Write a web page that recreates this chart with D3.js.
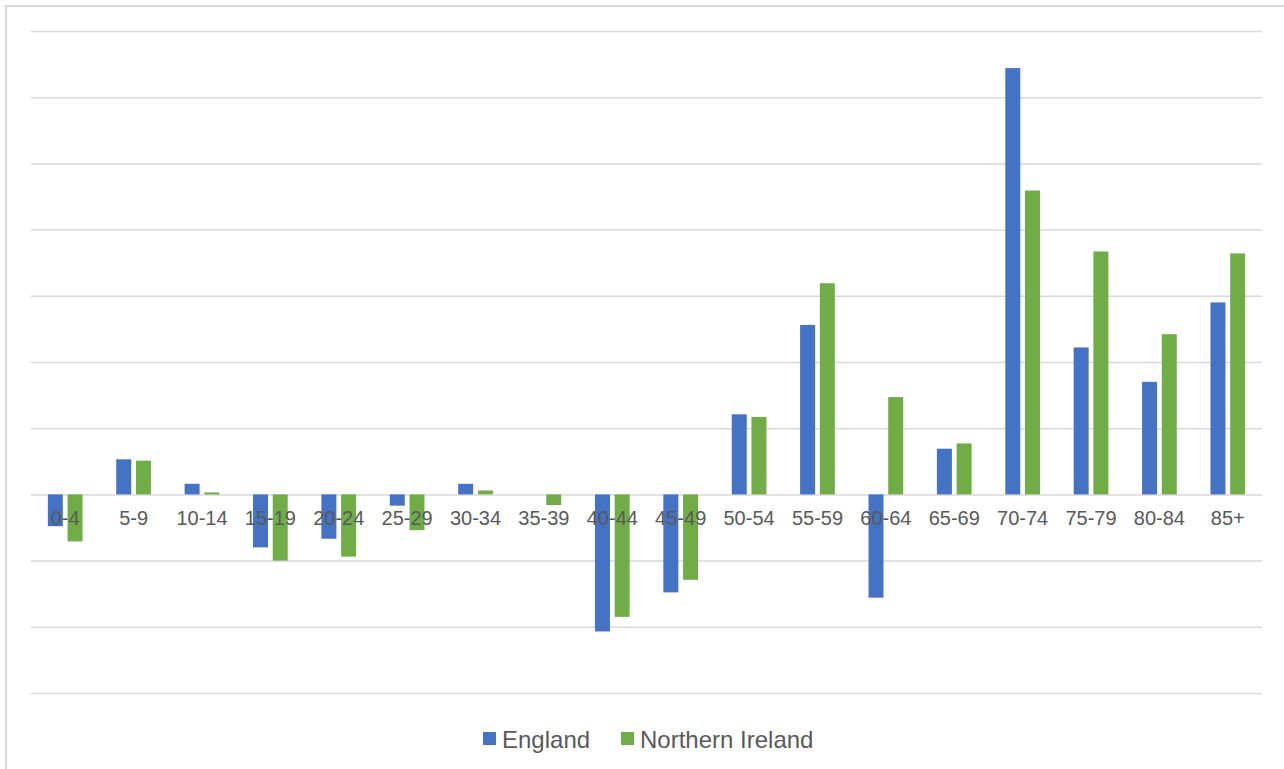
<!DOCTYPE html>
<html>
<head>
<meta charset="utf-8">
<script src="https://cdn.jsdelivr.net/npm/d3@7"></script>
<style>
  body { margin: 0; background: #fff; }
  svg { display: block; font-family: "Liberation Sans", Arial, sans-serif; }
</style>
</head>
<body>
<svg id="chart" width="1284" height="769"></svg>
<script>
// age groups along the bottom
var ageGroups = ["0-4", "5-9", "10-14", "15-19", "20-24", "25-29", "30-34", "35-39", "40-44",
  "45-49", "50-54", "55-59", "60-64", "65-69", "70-74", "75-79", "80-84", "85+"];
var seriesNames = ["England", "Northern Ireland"];
// values, in gridline units (no axis labels shown)
var england = [-0.48, 0.53, 0.16, -0.80, -0.67, -0.17, 0.16, 0, -2.07, -1.48,
  1.21, 2.56, -1.56, 0.69, 6.44, 2.22, 1.70, 2.90];
var northernIreland = [-0.71, 0.51, 0.03, -1.00, -0.94, -0.54, 0.06, -0.16, -1.85, -1.29,
  1.17, 3.19, 1.47, 0.77, 4.59, 3.67, 2.42, 3.64];
var yTicks = d3.range(-3, 8);

var colors = { "England": "#4472C4", "Northern Ireland": "#70AD47" };

var svg = d3.select("#chart");

// chart frame (right and bottom edges fall outside the picture)
svg.append("rect")
  .attr("x", 6).attr("y", 6)
  .attr("width", 1300).attr("height", 800)
  .attr("fill", "none")
  .attr("stroke", "#d9d9d9")
  .attr("stroke-width", 2);

var plotLeft = 31, plotRight = 1262, plotTop = 31, plotBottom = 693;

var x = d3.scaleBand().domain(ageGroups).range([plotLeft, plotRight]).padding(0);
var x1 = d3.scaleBand().domain(seriesNames).range([-17.35, 17.35]).paddingInner(0.24);
var y = d3.scaleLinear().domain([-3, 7]).range([plotBottom, plotTop]);

// gridlines
var grid = svg.append("g")
  .attr("transform", "translate(" + plotLeft + ",0)")
  .call(d3.axisLeft(y).tickValues(yTicks).tickSize(-(plotRight - plotLeft)).tickFormat(""));
grid.select(".domain").remove();
grid.selectAll(".tick line").attr("stroke", "#d9d9d9").attr("stroke-width", 1.5);

var rows = ageGroups.map(function(g, i) {
  return { group: g, values: [
    { name: "England", v: england[i] },
    { name: "Northern Ireland", v: northernIreland[i] }
  ] };
});

var groups = svg.append("g").selectAll("g").data(rows).enter().append("g")
  .attr("transform", function(d) { return "translate(" + (x(d.group) + x.bandwidth() / 2) + ",0)"; });

groups.selectAll("rect").data(function(d) { return d.values; }).enter().append("rect")
  .filter(function(d) { return d.v !== 0; })
  .attr("x", function(d) { return x1(d.name); })
  .attr("width", x1.bandwidth())
  .attr("y", function(d) { return y(Math.max(0, d.v)); })
  .attr("height", function(d) { return Math.abs(y(d.v) - y(0)); })
  .attr("fill", function(d) { return colors[d.name]; });

// category labels sit just under the zero line
svg.append("g").selectAll("text").data(ageGroups).enter().append("text")
  .attr("x", function(d) { return x(d) + x.bandwidth() / 2; })
  .attr("y", y(0) + 31)
  .attr("text-anchor", "middle")
  .attr("font-size", 20)
  .attr("fill", "#595959")
  .text(function(d) { return d; });

// legend
var legendX = [483, 621];
var legend = svg.append("g").selectAll("g").data(seriesNames).enter().append("g")
  .attr("transform", function(d, i) { return "translate(" + legendX[i] + ",732)"; });
legend.append("rect")
  .attr("width", 13).attr("height", 13)
  .attr("fill", function(d) { return colors[d]; });
legend.append("text")
  .attr("x", 19).attr("y", 16)
  .attr("font-size", 24)
  .attr("fill", "#595959")
  .text(function(d) { return d; });
</script>
</body>
</html>
